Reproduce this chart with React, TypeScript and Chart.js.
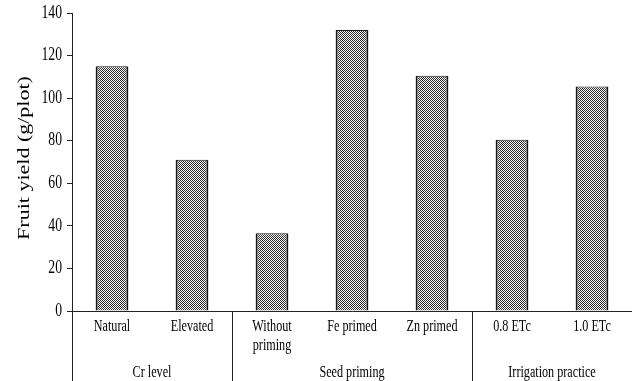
import React, { useEffect, useRef } from "react";
import { Chart, registerables } from "chart.js";

Chart.register(...registerables);

// ---- data ----
const categories: string[][] = [
  ["Natural"],
  ["Elevated"],
  ["Without", "priming"],
  ["Fe primed"],
  ["Zn primed"],
  ["0.8 ETc"],
  ["1.0 ETc"],
];
const fruitYield: number[] = [115, 71, 36.5, 132, 110.5, 80.5, 105.5];
const groupLabels: string[] = ["Cr level", "Seed priming", "Irrigation practice"];
const groupSizes: number[] = [2, 3, 2];
const yAxisTitle = "Fruit yield (g/plot)";
const yMin = 0;
const yMax = 140;
const yStep = 20;

// ---- styling ----
const W = 632;
const H = 381;
const SQ = 0.76; // horizontal squeeze of the lettering in the original
const FONT = "'Liberation Serif', 'Times New Roman', serif";
const AXIS = "#222";

function makePattern(ctx: CanvasRenderingContext2D): CanvasPattern | string {
  const c = document.createElement("canvas");
  c.width = 2;
  c.height = 2;
  const p = c.getContext("2d");
  if (!p) return "#999";
  p.fillStyle = "#ffffff";
  p.fillRect(0, 0, 2, 2);
  p.fillStyle = "#2b2b2b";
  p.fillRect(0, 0, 1, 1);
  p.fillRect(1, 1, 1, 1);
  return ctx.createPattern(c, "repeat") || "#999";
}

function squeezedText(
  ctx: CanvasRenderingContext2D,
  text: string,
  x: number,
  y: number,
  align: CanvasTextAlign,
  size: number,
  rotate = false
) {
  ctx.save();
  ctx.translate(x, y);
  ctx.scale(SQ, 1);
  if (rotate) ctx.rotate(-Math.PI / 2);
  ctx.font = `${size}px ${FONT}`;
  ctx.fillStyle = "#000";
  ctx.textAlign = align;
  ctx.textBaseline = "middle";
  ctx.fillText(text, 0, 0);
  ctx.restore();
}

const textPlugin = {
  id: "textPlugin",
  afterDraw(chart: any) {
    const ctx: CanvasRenderingContext2D = chart.ctx;
    const xs = chart.scales.x;
    const ys = chart.scales.y;
    const area = chart.chartArea;

    // y tick labels
    ys.ticks.forEach((t: any) => {
      squeezedText(ctx, String(t.value), area.left - 10, ys.getPixelForValue(t.value), "right", 18);
    });

    // y title
    squeezedText(ctx, yAxisTitle, 25, (area.top + area.bottom) / 2 - 4, "center", 22, true);

    // category labels
    categories.forEach((lines, i) => {
      const cx = xs.getPixelForValue(i);
      lines.forEach((ln, li) => {
        squeezedText(ctx, ln, cx, area.bottom + 16 + li * 19, "center", 16);
      });
    });

    // group labels and separators
    ctx.save();
    ctx.strokeStyle = AXIS;
    ctx.lineWidth = 1;
    const seps: number[] = [area.left];
    let idx = 0;
    groupSizes.forEach((s, gi) => {
      const first = idx;
      const last = idx + s - 1;
      idx += s;
      const cx = (xs.getPixelForValue(first) + xs.getPixelForValue(last)) / 2;
      squeezedText(ctx, groupLabels[gi], cx, 373, "center", 16);
      if (gi < groupSizes.length - 1) {
        seps.push((xs.getPixelForValue(last) + xs.getPixelForValue(last + 1)) / 2);
      }
    });
    seps.forEach((lx) => {
      const px = Math.round(lx) + 0.5;
      ctx.beginPath();
      ctx.moveTo(px, area.bottom);
      ctx.lineTo(px, H);
      ctx.stroke();
    });
    ctx.restore();
  },
};

export default function App() {
  const ref = useRef<HTMLCanvasElement | null>(null);

  useEffect(() => {
    document.body.style.margin = "0";
    const canvas = ref.current;
    if (!canvas) return;
    const ctx = canvas.getContext("2d");
    if (!ctx) return;
    const pattern = makePattern(ctx);

    const chart = new Chart(ctx, {
      type: "bar",
      data: {
        labels: categories.map((c) => c.join(" ")),
        datasets: [
          {
            data: fruitYield,
            backgroundColor: pattern as any,
            borderColor: "#1a1a1a",
            borderWidth: { top: 1, left: 2, right: 2, bottom: 0 } as any,
            borderSkipped: "start",
            barPercentage: 0.41,
            categoryPercentage: 1,
          },
        ],
      },
      options: {
        responsive: false,
        maintainAspectRatio: false,
        devicePixelRatio: 1,
        animation: false,
        layout: { padding: { top: 13, left: 0, right: 0, bottom: 0 } },
        plugins: {
          legend: { display: false },
          tooltip: { enabled: false },
        },
        scales: {
          x: {
            offset: true,
            grid: { display: false, drawTicks: false },
            border: { display: true, color: AXIS, width: 1 },
            ticks: { display: false },
            afterFit(scale: any) {
              scale.height = H - 311;
            },
          },
          y: {
            min: yMin,
            max: yMax,
            ticks: { display: false, stepSize: yStep },
            grid: {
              drawOnChartArea: false,
              drawTicks: true,
              tickLength: 5,
              color: AXIS,
              lineWidth: 1,
            },
            border: { display: true, color: AXIS, width: 1 },
            title: { display: false },
            afterFit(scale: any) {
              scale.width = 72;
            },
          },
        },
      },
      plugins: [textPlugin],
    });

    return () => {
      chart.destroy();
    };
  }, []);

  return <canvas ref={ref} width={W} height={H} style={{ width: `${W}px`, height: `${H}px`, display: "block" }} />;
}
